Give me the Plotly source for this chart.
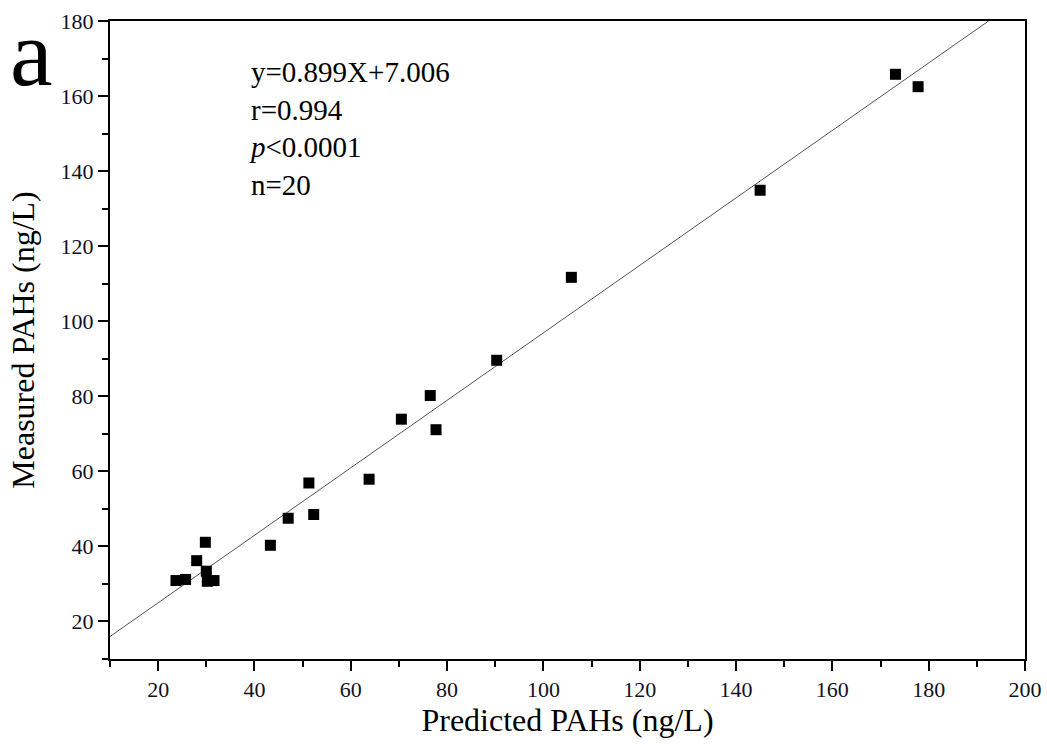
import plotly.graph_objects as go

predicted = [23.7, 25.7, 29.8, 28.0, 30.0, 30.2, 31.6, 43.3, 47.0, 52.3,
             51.3, 63.8, 70.5, 76.5, 77.7, 105.8, 90.3, 145.0, 173.1, 177.8]
measured = [30.9, 31.2, 41.1, 36.2, 33.4, 30.7, 30.9, 40.3, 47.5, 48.5,
            56.9, 57.9, 73.9, 80.2, 71.1, 111.7, 89.6, 134.9, 165.8, 162.5]

slope = 0.899
intercept = 7.006
x_range = [10, 200]
y_range = [10, 180]

line_x = [x_range[0], (y_range[1] - intercept) / slope]
line_y = [slope * v + intercept for v in line_x]

FONT = "Liberation Serif"

fig = go.Figure()
fig.add_trace(go.Scatter(x=line_x, y=line_y, mode="lines",
                         line=dict(color="#555555", width=1), showlegend=False,
                         hoverinfo="skip"))
fig.add_trace(go.Scatter(x=predicted, y=measured, mode="markers",
                         marker=dict(symbol="square", size=11, color="black",
                                     line=dict(width=0)),
                         showlegend=False))

axis_common = dict(showgrid=False, zeroline=False, showline=True, linecolor="black",
                   linewidth=2, mirror=True, ticks="outside", ticklen=10, tickwidth=2,
                   tickcolor="black", tickfont=dict(family=FONT, size=22, color="#111122"),
                   tick0=0, dtick=20, automargin=False,
                   minor=dict(ticks="outside", ticklen=6, tickwidth=2, tickcolor="black", dtick=10))

fig.update_xaxes(range=x_range, title=dict(text="Predicted PAHs (ng/L)",
                 font=dict(family=FONT, size=32, color="black"), standoff=6), **axis_common)
fig.update_yaxes(range=y_range, title=dict(text="Measured PAHs (ng/L)",
                 font=dict(family=FONT, size=32, color="black"), standoff=16), **axis_common)

stats = ["y=0.899X+7.006", "r=0.994", "<i>p</i><0.0001", "n=20"]
fig.add_annotation(x=0.150, y=0.949, xref="paper", yref="paper", xanchor="left", yanchor="top",
                   text="<br>".join(stats), showarrow=False, align="left",
                   font=dict(family=FONT, size=29, color="black"))
fig.add_annotation(x=-0.112, y=1.037, xref="paper", yref="paper", xanchor="left", yanchor="top",
                   text="a", showarrow=False, font=dict(family=FONT, size=96, color="black"))

fig.update_layout(width=1047, height=744, plot_bgcolor="white", paper_bgcolor="white",
                  margin=dict(l=110, r=22, t=21, b=85))

fig.write_html("out.html")
